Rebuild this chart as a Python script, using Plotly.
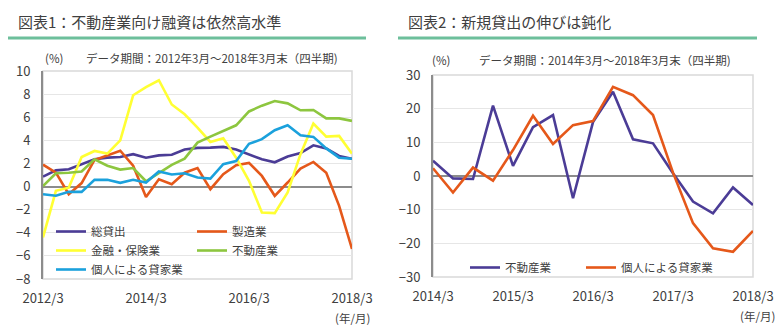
import plotly.graph_objects as go

W, H = 783, 327
FONT = "Noto Sans CJK JP"
TXT = "#404040"

# ---------- data: chart 1 (quarterly, 2012/3 - 2018/3) ----------
q1 = []
for y in range(2012, 2019):
    for m in (3, 6, 9, 12):
        if (y == 2018 and m > 3):
            break
        q1.append(f"{y}/{m}")

total_loans = [0.86, 1.4, 1.5, 1.9, 2.36, 2.5, 2.56, 2.8, 2.5, 2.7, 2.75, 3.2, 3.35,
               3.37, 3.43, 3.2, 2.8, 2.36, 2.1, 2.6, 2.9, 3.57, 3.3, 2.65, 2.4]
manufacturing = [1.9, 1.2, -0.66, 0.3, 2.3, 2.7, 3.1, 1.8, -0.9, 0.63, 0.2, 1.2, 1.6,
                 -0.23, 1.07, 1.84, 2.05, 0.92, -0.8, 0.35, 1.56, 2.13, 1.2, -1.67, -5.4]
finance = [-4.4, -0.37, -0.1, 2.56, 3.08, 2.85, 4.0, 7.9, 8.6, 9.2, 7.1, 6.25, 5.1,
           3.86, 4.18, 2.5, 0.5, -2.25, -2.3, -0.5, 2.8, 5.45, 4.32, 4.38, 2.85]
real_estate = [0.05, 1.15, 1.2, 1.3, 2.36, 1.8, 1.47, 1.6, 0.46, 1.2, 1.87, 2.42, 3.8,
               4.32, 4.8, 5.3, 6.5, 7.0, 7.4, 7.2, 6.6, 6.63, 5.9, 5.9, 5.68]
rental = [-0.66, -0.8, -0.46, -0.46, 0.58, 0.58, 0.32, 0.58, 0.35, 1.3, 1.04, 1.15, 0.78,
          0.69, 1.93, 2.2, 3.7, 4.1, 4.87, 5.3, 4.44, 4.3, 3.3, 2.5, 2.4]
ticks1 = ["2012/3", "2014/3", "2016/3", "2018/3"]

# ---------- data: chart 2 (quarterly, 2014/3 - 2018/3) ----------
q2 = q1[8:]
new_real_estate = [4.55, -0.7, -0.9, 20.9, 3.0, 14.5, 18.1, -6.6, 16.0, 25.0, 10.9, 9.7,
                   0.8, -7.6, -11.1, -3.4, -8.6]
new_rental = [2.3, -4.9, 2.5, -1.4, 7.7, 17.9, 9.5, 15.1, 16.3, 26.5, 24.0, 18.1,
              1.0, -14.0, -21.5, -22.5, -16.3]
ticks2 = ["2014/3", "2015/3", "2016/3", "2017/3", "2018/3"]

C_PURPLE = "#4B3C96"
C_ORANGE = "#E5581A"
C_YELLOW = "#FFFF33"
C_GREEN = "#8DC63F"
C_BLUE = "#1BA1DC"

fig = go.Figure()

LW = 2.6
def add(x, y, name, color, xa, ya, legend):
    fig.add_trace(go.Scatter(x=x, y=y, name=name, mode="lines",
                             line=dict(color=color, width=LW),
                             xaxis=xa, yaxis=ya, legend=legend))

add(q1, total_loans, "総貸出", C_PURPLE, "x", "y", "legend")
add(q1, manufacturing, "製造業", C_ORANGE, "x", "y", "legend2")
add(q1, finance, "金融・保険業", C_YELLOW, "x", "y", "legend")
add(q1, real_estate, "不動産業", C_GREEN, "x", "y", "legend2")
add(q1, rental, "個人による貸家業", C_BLUE, "x", "y", "legend")
add(q2, new_real_estate, "不動産業", C_PURPLE, "x2", "y2", "legend3")
add(q2, new_rental, "個人による貸家業", C_ORANGE, "x2", "y2", "legend4")

def px(x):
    return x / W
def py(y):
    return 1 - y / H

axis_font = dict(family=FONT, size=13, color=TXT)
grid = "#E6E6E6"
axc = "#8C8C8C"

xcommon = dict(type="category", showgrid=False, zeroline=False, showline=False,
               ticks="outside", ticklen=7, tickcolor="rgba(0,0,0,0)",
               tickfont=axis_font, fixedrange=True, automargin=False)
ycommon = dict(showgrid=True, gridcolor=grid, gridwidth=1, zeroline=True,
               zerolinecolor=axc, zerolinewidth=2, showline=True, linecolor=axc,
               linewidth=2, ticks="outside", ticklen=8, tickcolor="rgba(0,0,0,0)",
               tickfont=axis_font, fixedrange=True, automargin=False)

lfont = dict(family=FONT, size=11.5, color=TXT)
def leg(x, y):
    return dict(x=px(x), y=py(y), xanchor="left", yanchor="top",
                bgcolor="rgba(0,0,0,0)", font=lfont, tracegroupgap=0, itemwidth=30)

fig.update_layout(
    width=W, height=H, margin=dict(l=0, r=0, t=0, b=0, autoexpand=False),
    paper_bgcolor="white", plot_bgcolor="white",
    font=dict(family=FONT, color=TXT),
    xaxis=dict(xcommon, domain=[px(43), px(352)], range=[0, len(q1) - 1],
               tickvals=ticks1, ticktext=ticks1, anchor="y"),
    yaxis=dict(ycommon, domain=[py(279), py(71)], range=[-8, 10], dtick=2, anchor="x"),
    xaxis2=dict(xcommon, domain=[px(433), px(753)], range=[0, len(q2) - 1],
                tickvals=ticks2, ticktext=ticks2, anchor="y2"),
    yaxis2=dict(ycommon, domain=[py(277), py(75)], range=[-30, 30], dtick=10, anchor="x2"),
    legend=leg(51, 217),
    legend2=leg(192, 217),
    legend3=leg(465, 253),
    legend4=leg(581, 253),
    showlegend=True,
)

shapes = []
# plot frames (light grey)
for xa, ya in (("x", "y"), ("x2", "y2")):
    shapes.append(dict(type="rect", xref=f"{xa} domain", yref=f"{ya} domain",
                       x0=0, x1=1, y0=0, y1=1, line=dict(color="#D9D9D9", width=1.5),
                       layer="below"))
# title underlines
shapes.append(dict(type="line", xref="paper", yref="paper", x0=px(8), x1=px(366),
                   y0=py(38), y1=py(38), line=dict(color="#6DBF9B", width=3)))
shapes.append(dict(type="line", xref="paper", yref="paper", x0=px(398), x1=px(757),
                   y0=py(38), y1=py(38), line=dict(color="#6DBF9B", width=3)))
fig.update_layout(shapes=shapes)

ann = []
def text(x, y, s, size, anchor="left"):
    ann.append(dict(x=px(x), y=py(y), xref="paper", yref="paper", text=s,
                    showarrow=False, xanchor=anchor, yanchor="middle",
                    font=dict(family=FONT, size=size, color=TXT)))

text(16, 21, "図表1：不動産業向け融資は依然高水準", 15)
text(406, 21, "図表2：新規貸出の伸びは鈍化", 15)
text(43, 58, "(%)", 11.5)
text(84, 58, "データ期間：2012年3月～2018年3月末（四半期)", 11.5)
text(430, 60, "(%)", 11.5)
text(477, 60, "データ期間：2014年3月～2018年3月末（四半期)", 11.5)
text(352, 318, "(年/月)", 11.5, "center")
text(757, 316, "(年/月)", 11.5, "center")
fig.update_layout(annotations=ann)

fig.write_html("out.html")
